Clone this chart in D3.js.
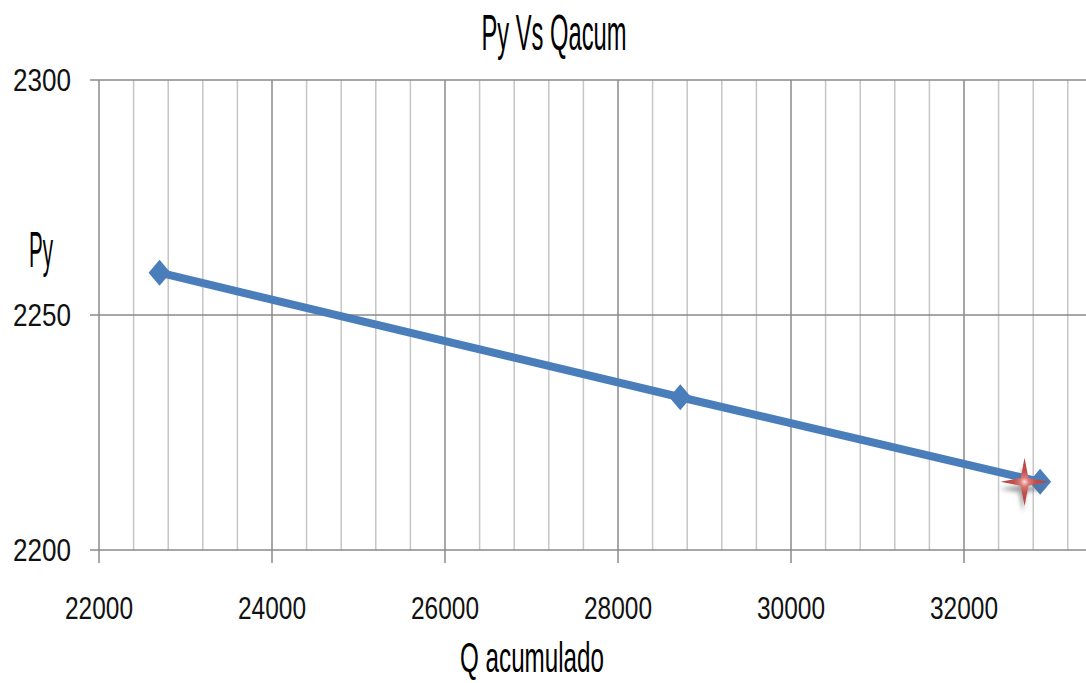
<!DOCTYPE html>
<html>
<head>
<meta charset="utf-8">
<script src="https://cdn.jsdelivr.net/npm/d3@7"></script>
<style>
  body { margin: 0; background: #fff; }
  svg { display: block; }
</style>
</head>
<body>
<div id="chart"></div>
<script>
// Data.
var qAcum = [22700, 28720, 32880];
var py = [2259, 2232.5, 2214.5];
var starQ = [32700];
var starPy = [2214.5];
var xTicks = [22000, 24000, 26000, 28000, 30000, 32000, 34000];
var yTicks = [2200, 2250, 2300];

var width = 1086, height = 683;
var font = "'Liberation Sans Narrow', 'Liberation Sans', Arial, sans-serif";

var svg = d3.select('#chart').append('svg')
  .attr('width', width)
  .attr('height', height);

var x = d3.scaleLinear().domain([22000, 34000]).range([99, 1137]);
var y = d3.scaleLinear().domain([2200, 2300]).range([550, 80]);

// Minor vertical grid every 400.
var grid = svg.append('g');
grid.selectAll('.minor').data(d3.range(22400, 34000, 400).filter(function(d) { return d % 2000 !== 0; }))
  .enter().append('line')
    .attr('x1', function(d) { return x(d); })
    .attr('x2', function(d) { return x(d); })
    .attr('y1', y(2300))
    .attr('y2', y(2200))
    .attr('stroke', '#c6c6c6')
    .attr('stroke-width', 1.5);

// Major vertical grid + ticks below the axis.
grid.selectAll('.major').data(xTicks)
  .enter().append('line')
    .attr('x1', function(d) { return x(d); })
    .attr('x2', function(d) { return x(d); })
    .attr('y1', y(2300))
    .attr('y2', y(2200) + 13)
    .attr('stroke', '#8a8a8a')
    .attr('stroke-width', 1.5);

// Horizontal grid lines with ticks on the left.
grid.selectAll('.hline').data(yTicks)
  .enter().append('line')
    .attr('x1', 90)
    .attr('x2', width)
    .attr('y1', function(d) { return y(d); })
    .attr('y2', function(d) { return y(d); })
    .attr('stroke', '#8a8a8a')
    .attr('stroke-width', 1.5);

// Tick labels.
svg.append('g').selectAll('text').data(yTicks)
  .enter().append('text')
    .attr('x', 71)
    .attr('y', function(d) { return y(d) + 11; })
    .attr('text-anchor', 'end')
    .attr('textLength', 58)
    .attr('lengthAdjust', 'spacingAndGlyphs')
    .style('font-family', font)
    .style('font-size', '31px')
    .attr('fill', '#111')
    .text(function(d) { return d; });

svg.append('g').selectAll('text').data(xTicks.filter(function(d) { return x(d) < width - 40; }))
  .enter().append('text')
    .attr('x', function(d) { return x(d); })
    .attr('y', 619)
    .attr('text-anchor', 'middle')
    .attr('textLength', 68)
    .attr('lengthAdjust', 'spacingAndGlyphs')
    .style('font-family', font)
    .style('font-size', '31px')
    .attr('fill', '#111')
    .text(function(d) { return d; });

// Titles (condensed look).
function condensedText(txt, cx, baseline, len, size) {
  svg.append('text')
    .attr('x', cx)
    .attr('y', baseline)
    .attr('text-anchor', 'middle')
    .attr('textLength', len)
    .attr('lengthAdjust', 'spacingAndGlyphs')
    .style('font-family', font)
    .style('font-size', size + 'px')
    .attr('fill', '#000')
    .text(txt);
}
condensedText('Py Vs Qacum', 554, 50, 145, 50);
condensedText('Py', 41, 267, 24, 50);
condensedText('Q acumulado', 532, 672, 144, 42);

// Series line.
var pts = qAcum.map(function(q, i) { return [q, py[i]]; });
var line = d3.line()
  .x(function(d) { return x(d[0]); })
  .y(function(d) { return y(d[1]); });

svg.append('path')
  .datum(pts)
  .attr('d', line)
  .attr('fill', 'none')
  .attr('stroke', '#4a7ebb')
  .attr('stroke-width', 8)
  .attr('stroke-linejoin', 'round');

// Diamond markers.
function diamond(w, h) {
  return 'M0,' + (-h / 2) + 'L' + (w / 2) + ',0L0,' + (h / 2) + 'L' + (-w / 2) + ',0Z';
}
svg.selectAll('.marker').data(pts)
  .enter().append('path')
    .attr('transform', function(d) { return 'translate(' + x(d[0]) + ',' + y(d[1]) + ')'; })
    .attr('d', diamond(22, 26))
    .attr('fill', '#4a7ebb');

// Red four-point star (second series) with a soft shadow.
var defs = svg.append('defs');
var grad = defs.append('radialGradient').attr('id', 'starGrad');
grad.append('stop').attr('offset', '0%').attr('stop-color', '#f8e0de');
grad.append('stop').attr('offset', '18%').attr('stop-color', '#dc7a76');
grad.append('stop').attr('offset', '45%').attr('stop-color', '#c0504d');
grad.append('stop').attr('offset', '100%').attr('stop-color', '#b8403d');
defs.append('filter').attr('id', 'blur')
  .append('feGaussianBlur').attr('stdDeviation', 2);

function star(r, ri) {
  var p = [];
  for (var k = 0; k < 8; k++) {
    var a = k * Math.PI / 4 - Math.PI / 2;
    var rr = k % 2 === 0 ? r : ri;
    p.push([Math.cos(a) * rr, Math.sin(a) * rr]);
  }
  return 'M' + p.map(function(v) { return v[0].toFixed(2) + ',' + v[1].toFixed(2); }).join('L') + 'Z';
}
var starPts = starQ.map(function(q, i) { return [q, starPy[i]]; });
svg.selectAll('.starShadow').data(starPts)
  .enter().append('path')
    .attr('transform', function(d) { return 'translate(' + (x(d[0]) - 2) + ',' + (y(d[1]) + 7) + ')'; })
    .attr('d', star(23, 5))
    .attr('fill', '#666')
    .attr('opacity', 0.6)
    .attr('filter', 'url(#blur)');
svg.selectAll('.star').data(starPts)
  .enter().append('path')
    .attr('transform', function(d) { return 'translate(' + x(d[0]) + ',' + y(d[1]) + ')'; })
    .attr('d', star(24, 5.5))
    .attr('fill', 'url(#starGrad)');
</script>
</body>
</html>
